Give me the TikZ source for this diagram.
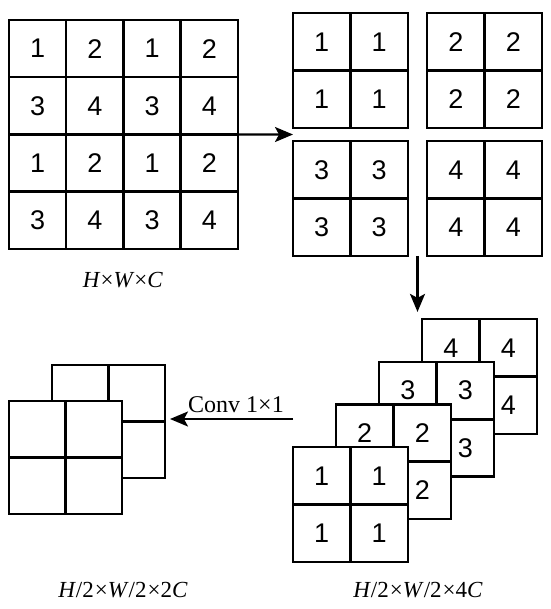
\documentclass[tikz,border=0pt]{standalone}
\usepackage{fontspec}
\setmainfont{Liberation Serif}
\setsansfont{Liberation Sans}
\usetikzlibrary{arrows.meta,calc}

\begin{document}
\begin{tikzpicture}[x=1pt, y=-1pt,
    cell/.style={draw, line width=2.5pt, fill=white, minimum size=57.3pt, inner sep=0pt, outer sep=0pt,
        font=\sffamily\fontsize{27}{27}\selectfont},
    small cell/.style={cell, minimum size=56.5pt},
    dim/.style={font=\fontsize{23}{23}\selectfont},
    arr/.style={-{Stealth[length=18pt, width=15pt, inset=4pt]}, line width=2.2pt}]
    \useasboundingbox (0,0) rectangle (550,609);

    % input feature map
    \foreach \r in {1,...,4}
        \foreach \c in {1,...,4} {
            \pgfmathtruncatemacro\v{2*mod(\r+1,2)+mod(\c+1,2)+1}
            \node[cell] (b\r\c) at ({9+57.25*(\c-0.5)},{20+57.25*(\r-0.5)}) {\v};
        }
    \node[dim] (inlbl) at (123,280) {\textit{H}×\textit{W}×\textit{C}};

    % split into four sub-maps
    \foreach \g/\ox/\oy/\v in {p1/293/13/1, p2/427/13/2, p3/293/141/3, p4/427/141/4}
        \foreach \r in {1,2}
            \foreach \c in {1,2}
                \node[cell] (\g\r\c) at ({\ox+57.5*(\c-0.5)},{\oy+57.5*(\r-0.5)}) {\v};

    % stacked sub-maps
    \foreach \k/\ox/\oy in {4/422/319, 3/379/361.7, 2/336/404.3, 1/293/447}
        \foreach \r in {1,2}
            \foreach \c in {1,2}
                \node[cell] (s\k\r\c) at ({\ox+57.5*(\c-0.5)},{\oy+57.5*(\r-0.5)}) {\k};
    \node[dim] (stlbl) at (418,590) {\textit{H}/2\kern1pt×\textit{W}/2\kern1pt×4\textit{C}};

    % output after convolution
    \foreach \k/\ox/\oy in {2/52/365, 1/9/401}
        \foreach \r in {1,2}
            \foreach \c in {1,2}
                \node[small cell] (o\k\r\c) at ({\ox+56.5*(\c-0.5)},{\oy+56.5*(\r-0.5)}) {};
    \node[dim] (outlbl) at (123,590) {\textit{H}/2\kern1pt×\textit{W}/2\kern1pt×2\textit{C}};

    % arrows
    \coordinate (split) at (293,134.5);
    \draw[arr] (b24.south east) -- (split);
    \coordinate (gap) at ($(p322.south east)!0.5!(p421.south west)$);
    \draw[arr] (gap) -- ++(0,56);
    \coordinate (cstart) at (293,419);
    \draw[arr, shorten >=5pt] (cstart) -- (o212.east |- cstart);
    \node[dim, font=\fontsize{24}{24}\selectfont, anchor=base] (conv) at (236,412) {Conv 1×1};
\end{tikzpicture}
\end{document}
